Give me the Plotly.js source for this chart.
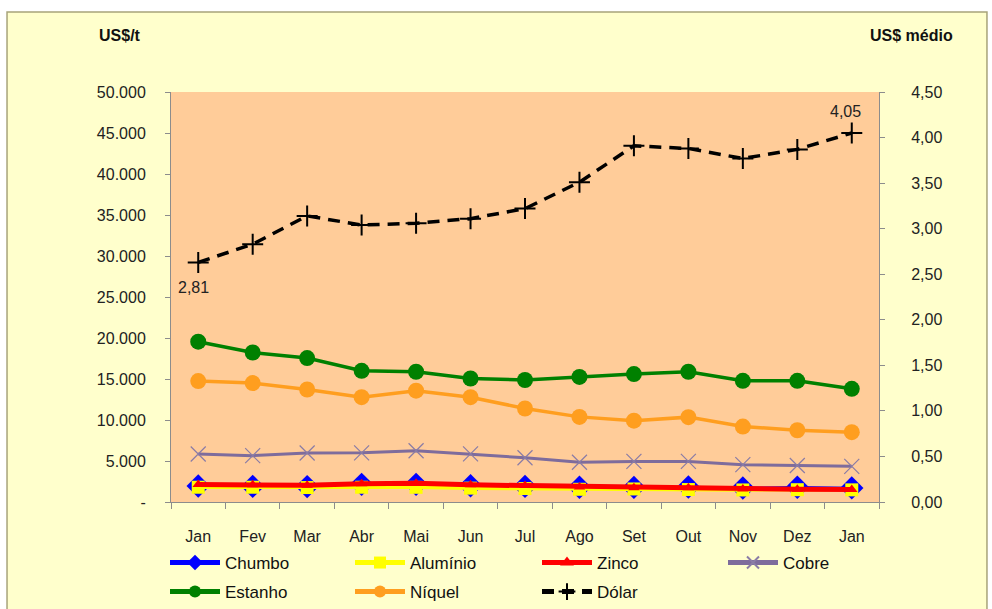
<!DOCTYPE html>
<html>
<head>
<meta charset="utf-8">
<script src="https://cdn.plot.ly/plotly-3.0.1.min.js"></script>
<style>
html,body{margin:0;padding:0;background:#fff;}
#chart{width:992px;height:609px;}
</style>
</head>
<body>
<div id="chart"></div>
<script>
var months = ['Jan','Fev','Mar','Abr','Mai','Jun','Jul','Ago','Set','Out','Nov','Dez','Jan'];
var chumbo   = [1950, 1900, 1880, 2150, 2150, 1980, 1900, 1800, 1780, 1830, 1700, 1800, 1720];
var aluminio = [1800, 1800, 1760, 1800, 1790, 1690, 1640, 1550, 1590, 1520, 1470, 1500, 1480];
var zinco    = [2120, 2100, 2050, 2230, 2300, 2090, 2000, 1820, 1730, 1740, 1600, 1550, 1530];
var cobre    = [5850, 5650, 5980, 6000, 6250, 5870, 5400, 4850, 4950, 4950, 4550, 4450, 4350];
var estanho  = [19550, 18230, 17550, 16000, 15880, 15060, 14880, 15250, 15600, 15880, 14780, 14780, 13800];
var niquel   = [14750, 14500, 13720, 12780, 13580, 12780, 11400, 10380, 9920, 10350, 9200, 8750, 8520];
var dolar    = [2.63, 2.83, 3.14, 3.04, 3.06, 3.11, 3.22, 3.51, 3.91, 3.88, 3.77, 3.87, 4.05];
var dolarLabels = ['2,81', '4,05'];
var leftTickVals  = [0, 5000, 10000, 15000, 20000, 25000, 30000, 35000, 40000, 45000, 50000];
var leftTickText  = ['-', '5.000', '10.000', '15.000', '20.000', '25.000', '30.000', '35.000', '40.000', '45.000', '50.000'];
var rightTickVals = [0, 0.5, 1, 1.5, 2, 2.5, 3, 3.5, 4, 4.5];
var rightTickText = ['0,00', '0,50', '1,00', '1,50', '2,00', '2,50', '3,00', '3,50', '4,00', '4,50'];

var xIdx = months.map(function(_, i){ return i; });
var boundaries = months.map(function(_, i){ return i - 0.5; }).concat([months.length - 0.5]);

var FONT = 'Arial, "Liberation Sans", sans-serif';

var traces = [
  {name:'Chumbo', x:xIdx, y:chumbo, mode:'lines+markers', legend:'legend',
   line:{color:'#0000FF', width:2.5}, marker:{symbol:'diamond', size:18, color:'#0000FF'}},
  {name:'Alumínio', x:xIdx, y:aluminio, mode:'lines+markers', legend:'legend2',
   line:{color:'#FFFF00', width:3.5}, marker:{symbol:'square', size:13, color:'#FFFF00'}},
  {name:'Zinco', x:xIdx, y:zinco, mode:'lines+markers', legend:'legend3',
   line:{color:'#FF0000', width:5}, marker:{symbol:'triangle-up', size:10, color:'#FF0000'}},
  {name:'Cobre', x:xIdx, y:cobre, mode:'lines+markers', legend:'legend4',
   line:{color:'#7E6C9C', width:3}, marker:{symbol:'x-thin-open', size:15, color:'#8A7CA6', line:{width:1.2, color:'#8A7CA6'}}},
  {name:'Estanho', x:xIdx, y:estanho, mode:'lines+markers', legend:'legend5',
   line:{color:'#008000', width:3.5}, marker:{symbol:'circle', size:16, color:'#008000'}},
  {name:'Níquel', x:xIdx, y:niquel, mode:'lines+markers', legend:'legend6',
   line:{color:'#FF9E1F', width:3.5}, marker:{symbol:'circle', size:16, color:'#FF9E1F'}},
  {name:'Dólar', x:xIdx, y:dolar, yaxis:'y2', mode:'lines+markers', legend:'legend7',
   line:{color:'#000000', width:3.5, dash:'12px,8px'},
   marker:{symbol:'cross-thin-open', size:15, color:'#000000', line:{width:2, color:'#000000'}}}
];

var axisFont = {family: FONT, size: 16, color: '#222'};
var legendFont = {family: FONT, size: 17, color: '#111'};
var last = dolar.length - 1;

function legendAt(xPx, yCenterPx) {
  return {
    orientation: 'h', xref: 'container', yref: 'container',
    x: xPx / 992, y: 1 - yCenterPx / 609, xanchor: 'left', yanchor: 'middle',
    itemwidth: 50, itemsizing: 'constant', font: legendFont, bgcolor: 'rgba(0,0,0,0)'
  };
}

var layout = {
  width: 992, height: 609,
  margin: {l:171, r:113, t:92, b:107, pad:0},
  paper_bgcolor: '#FFFFFF',
  plot_bgcolor: 'rgba(0,0,0,0)',
  showlegend: true,
  xaxis: {
    range: [-0.5, months.length - 0.5],
    tickmode: 'array', tickvals: xIdx, ticktext: months,
    ticks: '', showline: true, linecolor: '#8C8C8C', linewidth: 1,
    showgrid: false, zeroline: false, tickfont: axisFont, ticklabelstandoff: 20,
    minor: {tickmode: 'array', tickvals: boundaries, ticks: 'outside', ticklen: 6, tickcolor: '#8C8C8C', tickwidth: 1, showgrid: false}
  },
  yaxis: {
    range: [0, 50000], tickmode: 'array', tickvals: leftTickVals, ticktext: leftTickText,
    ticks: 'outside', ticklen: 5, tickcolor: '#8C8C8C', showline: true, linecolor: '#8C8C8C',
    showgrid: false, zeroline: false, tickfont: axisFont, ticklabelstandoff: 16
  },
  yaxis2: {
    range: [0, 4.5], overlaying: 'y', side: 'right',
    tickmode: 'array', tickvals: rightTickVals, ticktext: rightTickText,
    ticks: 'outside', ticklen: 5, tickcolor: '#8C8C8C', showline: true, linecolor: '#8C8C8C',
    showgrid: false, zeroline: false, tickfont: axisFont, ticklabelstandoff: 23
  },
  legend:  legendAt(165, 563),
  legend2: legendAt(350, 563),
  legend3: legendAt(537, 563),
  legend4: legendAt(723, 563),
  legend5: legendAt(165, 592),
  legend6: legendAt(350, 592),
  legend7: legendAt(537, 592),
  shapes: [
    {type:'rect', xref:'paper', yref:'paper', x0:-0.2316, x1:1.1525, y0:-0.30, y1:1.1951,
     fillcolor:'#FFFFCC', line:{color:'#A8A47A', width:1.5}, layer:'below'},
    {type:'rect', xref:'paper', yref:'paper', x0:0, x1:1, y0:0, y1:1,
     fillcolor:'#FFCC99', line:{width:0}, layer:'below'}
  ],
  annotations: [
    {xref:'paper', yref:'paper', x:-0.1045, y:1.139, xanchor:'left', yanchor:'middle', showarrow:false,
     text:'<b>US$/t</b>', font:{family: FONT, size:16, color:'#111'}},
    {xref:'paper', yref:'paper', x:1.1073, y:1.139, xanchor:'right', yanchor:'middle', showarrow:false,
     text:'<b>US$ médio</b>', font:{family: FONT, size:16, color:'#111'}},
    {xref:'x', yref:'y2', x:0, y:dolar[0], text:dolarLabels[0], showarrow:false,
     xshift:-5, yshift:-25, font:{family: FONT, size:16, color:'#222'}},
    {xref:'x', yref:'y2', x:last, y:dolar[last], text:dolarLabels[1], showarrow:false,
     xshift:-6, yshift:22, font:{family: FONT, size:16, color:'#222'}}
  ]
};

Plotly.newPlot('chart', traces, layout, {displayModeBar:false, staticPlot:true});
</script>
</body>
</html>
